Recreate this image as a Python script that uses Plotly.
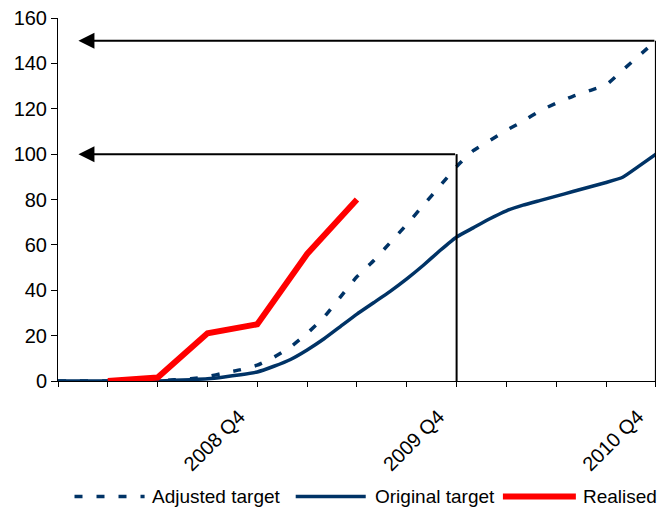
import plotly.graph_objects as go

# Monthly index from 2007 Q4 (month 0) to 2010 Q4 (month 36)
months = list(range(37))
quarter_ticks = list(range(13))
quarter_labels = ["", "", "", "", "2008 Q4", "", "", "", "2009 Q4", "", "", "", "2010 Q4"]

adjusted_target = [0, 0, 0, 0, 0, 0, 0, 0.5, 1, 1.9, 3.5, 5, 7, 10.5, 15, 21, 28, 37,
                   46, 53, 61, 69, 77.5, 86, 94.5, 101.5, 106, 110.5, 114.5, 119,
                   122.5, 125.5, 128, 130.5, 137, 143.5, 150]
original_target = [0, 0, 0, 0, 0, 0, 0, 0.3, 0.6, 1, 1.8, 2.8, 4, 6.5, 9.5, 13.7, 18.5,
                   24, 29.5, 34.5, 39.5, 45, 51, 57.5, 63.5, 67.5, 71.5, 75, 77.5, 79.5,
                   81.5, 83.5, 85.5, 87.5, 89.8, 94.8, 100]
realised_months = [3, 6, 9, 12, 15, 18]
realised = [0, 1.5, 21, 25, 56, 80]

series_names = ["Adjusted target", "Original target", "Realised"]

# Milestones: quarter position and target level pointed at on the y-axis
milestone_quarters = [8, 12]
milestone_levels = [100, 150]

NAVY = "#003366"
RED = "#ff0000"
FONT = "Liberation Sans, Arial, sans-serif"
DASH = "8px,14px"
FS = 20
LEGEND_FS = 19

fig = go.Figure()

fig.add_trace(go.Scatter(
    x=[m / 3 for m in months], y=adjusted_target, mode="lines", name=series_names[0],
    line=dict(color=NAVY, width=3.5, dash=DASH, shape="spline", smoothing=0.4),
    showlegend=False, cliponaxis=False))
fig.add_trace(go.Scatter(
    x=[m / 3 for m in months], y=original_target, mode="lines", name=series_names[1],
    line=dict(color=NAVY, width=3.5, shape="spline", smoothing=0.4),
    showlegend=False, cliponaxis=False))
fig.add_trace(go.Scatter(
    x=[m / 3 for m in realised_months], y=realised, mode="lines", name=series_names[2],
    line=dict(color=RED, width=6),
    showlegend=False, cliponaxis=False))

shapes = []
annotations = []
arrow_tip_x = 0.41
for q, level in zip(milestone_quarters, milestone_levels):
    shapes.append(dict(type="line", xref="x", yref="y", x0=q, x1=q, y0=0, y1=level,
                       line=dict(color="black", width=2)))
    annotations.append(dict(x=arrow_tip_x, y=level, ax=q, ay=level, xref="x", yref="y",
                            axref="x", ayref="y", text="", showarrow=True,
                            arrowhead=2, arrowsize=1.6, arrowwidth=2,
                            arrowcolor="black", standoff=0))

# Legend drawn below the plot with long line samples
legend_y = -0.318
legend_items = [
    (0.0276, 0.1448, 0.1531, dict(color=NAVY, width=3.5, dash=DASH)),
    (0.3975, 0.5146, 0.5264, dict(color=NAVY, width=3.5)),
    (0.7440, 0.8660, 0.8740, dict(color=RED, width=6)),
]
for name, (x0, x1, xt, ln) in zip(series_names, legend_items):
    shapes.append(dict(type="line", xref="paper", yref="paper", x0=x0, x1=x1,
                       y0=legend_y, y1=legend_y, line=ln))
    annotations.append(dict(x=xt, y=legend_y, xref="paper", yref="paper", text=name,
                            showarrow=False, xanchor="left", yanchor="middle",
                            font=dict(family=FONT, size=LEGEND_FS, color="black")))

fig.update_layout(
    width=659, height=508,
    margin=dict(l=58, r=3, t=18, b=127),
    paper_bgcolor="white", plot_bgcolor="white",
    font=dict(family=FONT, size=FS, color="black"),
    shapes=shapes, annotations=annotations,
    xaxis=dict(range=[0, 12.002], tickmode="array", tickvals=quarter_ticks,
               ticktext=quarter_labels, tickangle=-45, ticks="outside", ticklen=5,
               tickcolor="black", showline=True, linecolor="black", linewidth=1,
               showgrid=False, zeroline=False, tickfont=dict(size=FS),
               ticklabelshift=-18, ticklabelstandoff=10),
    yaxis=dict(range=[0, 160], dtick=20, ticks="outside", ticklen=6, tickcolor="black",
               showline=True, linecolor="black", linewidth=1, showgrid=False,
               zeroline=False, tickfont=dict(size=FS)),
)

fig.write_html("out.html")
